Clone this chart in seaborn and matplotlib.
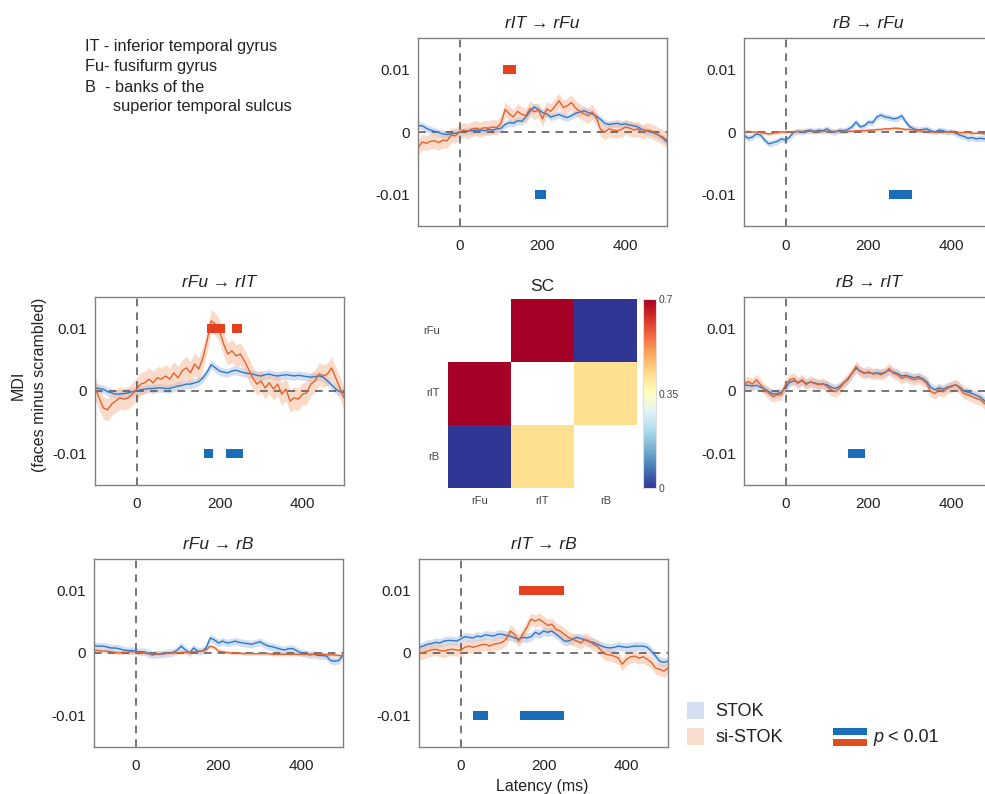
import numpy as np
import pandas as pd
import matplotlib
matplotlib.use("Agg")
import matplotlib.pyplot as plt
import seaborn as sns
from matplotlib.patches import Rectangle

# ---------------- data ----------------
time_ms = list(range(-100, 501, 10))   # latency grid (ms)
scale = 1e-3                           # values below are in units of 1e-3 MDI

# rIT -> rFu
rIT_rFu_stok = [1.0, 1.0, 0.6, 0.3, 0.1, -0.1, -0.3, -0.4, -0.3, -0.2,
                0.0, 0.1, 0.2, 0.2, 0.3, 0.3, 0.2, 0.4, 0.3, 0.5,
                0.6, 1.2, 1.5, 1.4, 1.8, 1.7, 2.4, 3.3, 4.0, 3.6,
                3.1, 2.9, 2.4, 2.6, 2.8, 2.5, 2.3, 2.6, 3.0, 3.2,
                3.4, 3.1, 2.9, 2.5, 2.0, 1.4, 1.2, 1.3, 1.4, 1.2,
                1.3, 1.1, 1.0, 0.8, 0.4, 0.2, 0.0, -0.2, -0.5, -1.0,
                -1.6]
rIT_rFu_si = [-2.5, -1.6, -1.8, -1.5, -1.4, -1.7, -1.3, -1.4, -0.5, -0.6,
              0.0, 0.3, 0.1, 0.5, 0.6, 0.4, 0.7, 0.6, 0.8, 0.7,
              1.4, 3.6, 2.9, 2.4, 3.3, 2.8, 2.6, 3.8, 3.2, 3.5,
              2.1, 3.7, 3.3, 4.1, 5.0, 3.9, 4.2, 4.7, 3.8, 3.3,
              2.9, 2.6, 3.2, 2.2, 0.4, 0.0, 0.5, 0.3, 0.2, 0.4,
              0.8, 0.6, 0.3, 0.5, 0.0, 0.3, 0.2, -0.1, -0.5, -0.8,
              -1.3]
# rB -> rFu
rB_rFu_stok = [-0.5, -1.0, -0.8, -0.3, -0.5, -1.3, -1.9, -1.7, -1.5, -1.1,
               -1.3, -0.8, 0.0, 0.1, 0.0, 0.2, 0.3, 0.1, 0.3, 0.2,
               0.5, 0.1, 0.0, 0.3, 0.2, 0.4, 0.8, 1.6, 0.8, 1.0,
               1.6, 1.5, 2.4, 2.7, 2.4, 2.3, 2.1, 2.2, 2.6, 1.6,
               0.8, 0.5, 0.3, 0.4, 0.5, 0.2, 0.0, 0.3, 0.2, 0.0,
               0.1, -0.2, -0.5, -0.7, -1.0, -0.9, -1.1, -1.0, -1.1, -0.9,
               -0.8]
rB_rFu_si = [0.0, 0.1, 0.0, 0.0, -0.1, -0.2, -0.3, -0.2, -0.1, 0.0,
             0.0, 0.0, 0.0, 0.1, 0.1, 0.1, 0.1, 0.1, 0.1, 0.1,
             0.1, 0.1, 0.1, 0.1, 0.1, 0.1, 0.1, 0.2, 0.2, 0.2,
             0.3, 0.3, 0.4, 0.4, 0.5, 0.5, 0.6, 0.6, 0.5, 0.4,
             0.4, 0.3, 0.2, 0.1, 0.1, 0.0, 0.0, 0.0, 0.0, 0.0,
             0.0, -0.1, -0.1, -0.1, -0.1, -0.2, -0.2, -0.2, -0.3, -0.3,
             -0.3]
# rFu -> rIT
rFu_rIT_stok = [0.5, 0.4, 0.3, -0.1, -0.3, -0.5, -0.5, -0.4, -0.3, -0.1,
                0.0, 0.2, 0.3, 0.4, 0.4, 0.5, 0.5, 0.4, 0.4, 0.6,
                0.8, 0.9, 1.1, 1.1, 1.3, 1.5, 2.1, 3.0, 4.2, 3.7,
                3.2, 3.0, 2.9, 3.2, 3.3, 3.1, 2.9, 2.8, 2.7, 2.5,
                2.4, 2.6, 2.7, 2.5, 2.4, 2.5, 2.6, 2.5, 2.4, 2.5,
                2.4, 2.3, 2.2, 2.3, 2.4, 2.2, 1.6, 1.0, 0.3, -0.1,
                -0.3]
rFu_rIT_si = [0.5, -1.1, -2.7, -3.0, -2.1, -1.6, -1.1, -1.3, -1.1, -0.5,
              0.3, 1.1, 1.3, 1.9, 1.3, 2.1, 1.9, 2.4, 1.9, 2.9,
              2.1, 3.2, 3.7, 2.9, 4.3, 3.5, 5.3, 8.0, 11.2, 10.7,
              9.6, 7.5, 5.9, 6.4, 5.6, 5.9, 4.8, 3.5, 2.1, 1.1,
              1.6, 0.5, 1.3, 0.3, 1.1, -0.5, 0.3, -1.6, -1.1, -1.3,
              -0.5, -0.3, 1.1, 1.6, 2.7, 2.4, 2.7, 3.7, 2.1, 0.5,
              -1.1]
# rB -> rIT
rB_rIT_stok = [1.0, 0.9, 0.8, 0.9, 0.6, 0.3, -0.1, -0.5, -0.4, -0.2,
               0.5, 1.4, 1.6, 1.4, 1.6, 1.2, 1.4, 1.3, 1.1, 1.1,
               1.0, 0.6, 0.4, 0.7, 1.3, 1.8, 2.8, 3.6, 3.2, 2.9,
               2.9, 2.8, 2.9, 2.8, 3.0, 3.3, 3.0, 2.8, 2.4, 2.5,
               2.3, 2.1, 2.3, 2.0, 1.5, 0.6, 0.2, 0.5, 0.3, 0.6,
               0.8, 1.0, 0.6, 0.0, -0.2, -0.4, -0.7, -1.0, -1.6, -2.1,
               -2.5]
rB_rIT_si = [1.0, 1.5, 1.1, 1.8, 1.0, 0.2, -0.4, -0.9, -0.6, -0.6,
             1.0, 1.8, 2.0, 1.2, 1.8, 1.0, 1.5, 1.2, 1.0, 1.2,
             0.7, 0.2, -0.1, 0.4, 1.2, 2.0, 2.8, 3.9, 3.1, 2.8,
             3.1, 2.7, 2.8, 2.6, 2.9, 3.6, 2.8, 2.6, 2.0, 2.3,
             2.0, 1.8, 2.0, 1.8, 1.2, -0.1, -0.4, 0.2, -0.1, 0.4,
             0.7, 1.0, 0.4, -0.4, -0.6, -0.9, -1.2, -1.4, -2.0, -2.5,
             -3.0]
# rFu -> rB
rFu_rB_stok = [1.2, 1.1, 1.1, 1.0, 0.8, 0.8, 0.7, 0.5, 0.4, 0.4,
               0.3, 0.2, 0.2, 0.0, -0.3, -0.2, -0.2, -0.1, 0.0, 0.1,
               0.4, 1.1, 0.5, 0.0, 0.8, 0.3, 0.3, 0.8, 2.4, 2.1,
               1.6, 1.9, 1.6, 1.7, 1.9, 1.7, 1.6, 1.5, 1.4, 1.6,
               1.8, 1.4, 1.1, 1.0, 0.8, 0.6, 0.5, 0.7, 0.7, 0.3,
               0.0, -0.1, -0.3, -0.2, -0.4, -0.4, -0.5, -1.2, -1.3, -1.2,
               -0.3]
rFu_rB_si = [0.4, 0.4, 0.3, 0.3, 0.2, 0.1, 0.0, 0.1, 0.1, 0.2,
             0.2, 0.1, 0.0, -0.1, -0.1, -0.2, -0.1, -0.1, 0.0, 0.0,
             0.0, 0.1, 0.1, 0.1, 0.2, 0.2, 0.3, 0.5, 1.1, 0.9,
             0.3, 0.2, 0.1, 0.0, 0.0, 0.0, -0.1, -0.1, -0.1, -0.1,
             -0.1, -0.1, -0.1, -0.2, -0.2, -0.2, -0.2, -0.2, -0.2, -0.2,
             -0.2, -0.2, -0.2, -0.2, -0.2, -0.2, -0.3, -0.3, -0.3, -0.4,
             -0.4]
# rIT -> rB
rIT_rB_stok = [0.9, 1.1, 1.4, 1.5, 1.7, 1.6, 1.9, 2.0, 2.0, 1.9,
               2.2, 2.6, 2.5, 2.4, 2.7, 2.6, 2.9, 2.8, 2.7, 3.0,
               3.0, 2.8, 2.7, 2.4, 2.2, 2.5, 2.4, 2.6, 3.3, 3.0,
               3.5, 3.3, 3.5, 3.0, 2.5, 1.9, 1.9, 2.2, 2.5, 2.3,
               2.1, 1.8, 1.7, 1.4, 1.1, 0.9, 0.8, 0.9, 1.1, 1.0,
               0.9, 1.0, 1.1, 1.1, 1.1, 0.9, 0.3, -0.5, -1.3, -1.5,
               -1.3]
rIT_rB_si = [-0.2, 0.1, 0.3, 0.5, 0.6, 0.4, 0.3, 0.5, 0.6, 0.5,
             0.4, 0.9, 1.1, 0.9, 1.1, 1.3, 1.4, 1.1, 1.4, 1.5,
             1.7, 2.2, 3.5, 3.0, 1.9, 3.0, 4.1, 5.4, 5.1, 5.4,
             4.9, 4.4, 4.6, 3.8, 3.5, 3.0, 2.5, 2.2, 1.9, 1.6,
             2.2, 1.9, 1.4, 1.1, 0.3, -0.2, -0.3, -0.5, -0.8, -1.8,
             -1.0, -0.6, -0.5, -0.8, -0.6, -1.0, -1.5, -2.4, -2.6, -2.9,
             -2.4]

# error band half-widths (1e-3 units): (STOK, si-STOK)
band_rIT_rFu = (0.6, 1.2)
band_rB_rFu = (0.5, 0.25)
band_rFu_rIT = (0.7, 1.8)
band_rB_rIT = (0.7, 0.9)
band_rFu_rB = (0.6, 0.25)
band_rIT_rB = (0.7, 1.0)

# significant windows (ms), p < 0.01
sig_stok_rIT_rFu = [(181, 209)]
sig_si_rIT_rFu = [(104, 137)]
sig_stok_rB_rFu = [(250, 305)]
sig_si_rB_rFu = []
sig_stok_rFu_rIT = [(162, 185), (215, 257)]
sig_si_rFu_rIT = [(170, 214), (230, 255)]
sig_stok_rB_rIT = [(150, 192)]
sig_si_rB_rIT = []
sig_stok_rFu_rB = []
sig_si_rFu_rB = []
sig_stok_rIT_rB = [(30, 66), (144, 250)]
sig_si_rIT_rB = [(140, 250)]

# structural connectivity
sc_labels = ["rFu", "rIT", "rB"]
sc_values = [[np.nan, 0.70, 0.00],
             [0.70, np.nan, 0.42],
             [0.00, 0.42, np.nan]]

y_ticks = [-0.01, 0, 0.01]
y_ticklabels = ["-0.01", "0", "0.01"]
x_ticks = [0, 200, 400]

# ---------------- style ----------------
sns.set_style("white")
plt.rcParams["font.family"] = ["Liberation Sans", "DejaVu Sans"]

BLUE = "#2b7bc6"
ORANGE = "#e4622e"
BLUE_BAND = "#aabfe8"
ORANGE_BAND = "#f6b897"
SIG_BLUE = "#1c6db9"
SIG_RED = "#e4421f"
SPINE = "#808080"
TXT = "#222222"

W, H = 985, 794
fig = plt.figure(figsize=(W / 100, H / 100), dpi=100)


def px_axes(left, top, w, h):
    return fig.add_axes([left / W, 1 - (top + h) / H, w / W, h / H])


def draw_panel(ax, title, stok, si, band, sig_b, sig_r):
    df = pd.DataFrame({
        "time": time_ms * 2,
        "mdi": [v * scale for v in stok] + [v * scale for v in si],
        "method": ["STOK"] * len(stok) + ["si-STOK"] * len(si),
    })
    t = np.array(time_ms)
    for vals, hw, col in ((stok, band[0], BLUE_BAND), (si, band[1], ORANGE_BAND)):
        m = np.array(vals) * scale
        ax.fill_between(t, m - hw * scale, m + hw * scale, color=col, alpha=0.5, lw=0)
    ax.axhline(0, color="#505050", lw=1.1, dashes=(5, 4), zorder=1)
    ax.axvline(0, color="#505050", lw=1.1, dashes=(5, 4), zorder=1)
    sns.lineplot(data=df, x="time", y="mdi", hue="method",
                 palette={"STOK": BLUE, "si-STOK": ORANGE},
                 hue_order=["STOK", "si-STOK"], ax=ax, legend=False, lw=1.0)
    bh = 0.0014
    if sig_r:
        ax.broken_barh([(a, b - a) for a, b in sig_r], (0.01 - bh / 2, bh),
                       color=SIG_RED, lw=0, zorder=5)
    if sig_b:
        ax.broken_barh([(a, b - a) for a, b in sig_b], (-0.01 - bh / 2, bh),
                       color=SIG_BLUE, lw=0, zorder=5)
    ax.set_xlim(-100, 500)
    ax.set_ylim(-0.015, 0.015)
    ax.set_xticks(x_ticks)
    ax.set_yticks(y_ticks)
    ax.set_yticklabels(y_ticklabels)
    ax.set_xlabel("")
    ax.set_ylabel("")
    ax.tick_params(length=0, labelsize=11, labelcolor=TXT)
    ax.tick_params(axis="x", pad=9)
    ax.tick_params(axis="y", pad=6)
    for s in ax.spines.values():
        s.set_visible(True)
        s.set_color(SPINE)
        s.set_linewidth(1.0)
    ax.set_title(title, fontstyle="italic", fontsize=12.5, color=TXT, pad=7)


PW, PH = 249, 188
panels = [
    ((418, 38), "rIT \u2192 rFu", rIT_rFu_stok, rIT_rFu_si, band_rIT_rFu, sig_stok_rIT_rFu, sig_si_rIT_rFu),
    ((744, 38), "rB \u2192 rFu", rB_rFu_stok, rB_rFu_si, band_rB_rFu, sig_stok_rB_rFu, sig_si_rB_rFu),
    ((95, 297), "rFu \u2192 rIT", rFu_rIT_stok, rFu_rIT_si, band_rFu_rIT, sig_stok_rFu_rIT, sig_si_rFu_rIT),
    ((744, 297), "rB \u2192 rIT", rB_rIT_stok, rB_rIT_si, band_rB_rIT, sig_stok_rB_rIT, sig_si_rB_rIT),
    ((94, 559), "rFu \u2192 rB", rFu_rB_stok, rFu_rB_si, band_rFu_rB, sig_stok_rFu_rB, sig_si_rFu_rB),
    ((419, 559), "rIT \u2192 rB", rIT_rB_stok, rIT_rB_si, band_rIT_rB, sig_stok_rIT_rB, sig_si_rIT_rB),
]
for (lx, ty), title, s1, s2, bd, sb, sr in panels:
    ax = px_axes(lx, ty, PW, PH)
    draw_panel(ax, title, s1, s2, bd, sb, sr)

# ---------------- SC heatmap ----------------
axh = px_axes(448, 299, 189, 189)
cax = px_axes(643, 299, 13, 189)
sc_df = pd.DataFrame(sc_values, index=sc_labels, columns=sc_labels)
sns.heatmap(sc_df, ax=axh, cbar_ax=cax, cmap="RdYlBu_r", vmin=0, vmax=0.7,
            linewidths=0)
axh.set_title("SC", fontsize=12.5, color=TXT, pad=6)
axh.tick_params(length=0, labelsize=8, labelcolor="#444444", pad=6)
axh.set_yticklabels(sc_labels, rotation=0)
axh.set_xticklabels(sc_labels, rotation=0)
cax.set_yticks([0, 0.35, 0.7])
cax.set_yticklabels(["0", "0.35", "0.7"])
cax.tick_params(length=0, labelsize=7.5, labelcolor="#444444", pad=2)
for s in cax.spines.values():
    s.set_visible(True)
    s.set_color("#dddddd")

# ---------------- text ----------------
fs_note = 11.8
fig.text(85 / W, 1 - 47 / H, "IT - inferior temporal gyrus", fontsize=fs_note, va="center", color=TXT)
fig.text(85 / W, 1 - 67 / H, "Fu- fusifurm gyrus", fontsize=fs_note, va="center", color=TXT)
fig.text(85 / W, 1 - 87 / H, "B  - banks of the", fontsize=fs_note, va="center", color=TXT)
fig.text(113 / W, 1 - 106 / H, "superior temporal sulcus", fontsize=fs_note, va="center", color=TXT)

fig.text(18 / W, 1 - 385 / H, "MDI", rotation=90, fontsize=11.5, ha="center", va="center", color=TXT)
fig.text(40 / W, 1 - 385 / H, "(faces minus scrambled)", rotation=90, fontsize=11.5,
         ha="center", va="center", color=TXT)
fig.text(542 / W, 1 - 787 / H, "Latency (ms)", fontsize=11.5, ha="center", va="center", color=TXT)

# ---------------- legend ----------------
def fig_rect(x0, y0, x1, y1, color):
    fig.add_artist(Rectangle((x0 / W, 1 - y1 / H), (x1 - x0) / W, (y1 - y0) / H,
                             transform=fig.transFigure, color=color, lw=0))

fig_rect(687, 702, 704, 719, "#d5ddf1")
fig_rect(687, 728, 704, 745, "#f9dccb")
fig.text(715 / W, 1 - 711 / H, "STOK", fontsize=13, va="center", color=TXT)
fig.text(715 / W, 1 - 737 / H, "si-STOK", fontsize=13, va="center", color=TXT)
fig_rect(833, 728, 867, 735, SIG_BLUE)
fig_rect(833, 739, 867, 746, "#dd4f1d")
fig.text(873 / W, 1 - 737 / H, "p", fontsize=13, fontstyle="italic", va="center", color=TXT)
fig.text(888 / W, 1 - 737 / H, "< 0.01", fontsize=13, va="center", color=TXT)

fig.savefig("out.png", dpi=100)
